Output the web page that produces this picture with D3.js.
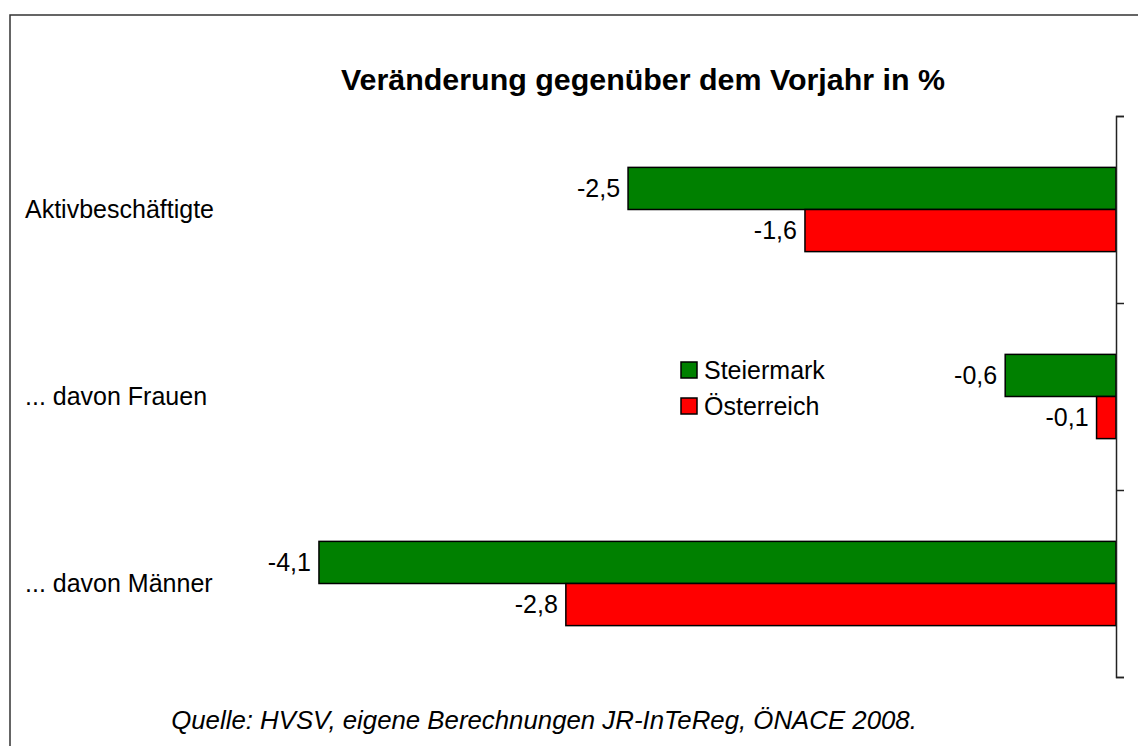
<!DOCTYPE html>
<html>
<head>
<meta charset="utf-8">
<script src="https://cdn.jsdelivr.net/npm/d3@7"></script>
<style>
  body { margin: 0; background: #fff; }
  svg { display: block; font-family: "Liberation Sans", Arial, sans-serif; }
</style>
</head>
<body>
<div class="chart"></div>
<script>
var categories = ["Aktivbeschäftigte", "... davon Frauen", "... davon Männer"];
var series = ["Steiermark", "Österreich"];
var steiermark = [-2.51, -0.57, -4.1];
var oesterreich = [-1.6, -0.1, -2.83];
var colors = ["#008000", "#ff0000"];

var W = 1138, H = 746;
var plot = {top: 116, bottom: 677, right: 1116};

var data = categories.map(function(c, i) {
  return {cat: c, values: [
    {s: series[0], v: steiermark[i]},
    {s: series[1], v: oesterreich[i]}
  ]};
});

var svg = d3.select(".chart").append("svg")
  .attr("width", W)
  .attr("height", H);

// frame (only left and top edges visible)
svg.append("path")
  .attr("d", "M10," + H + "V15H" + W)
  .attr("fill", "none")
  .attr("stroke", "#333")
  .attr("stroke-width", 1.5);

var xScale = d3.scaleLinear().domain([-5, 0]).range([144, plot.right]);
var y0 = d3.scaleBand().domain(categories).range([plot.top, plot.bottom]);
var y1 = d3.scaleBand().domain(series).range([0, y0.bandwidth()]).paddingOuter(1.22);

svg.append("text")
  .attr("x", 643)
  .attr("y", 90)
  .attr("text-anchor", "middle")
  .style("font-size", "30.4px")
  .style("font-weight", "bold")
  .text("Veränderung gegenüber dem Vorjahr in %");

var groups = svg.selectAll(".grp")
  .data(data)
  .enter().append("g")
    .attr("class", "grp")
    .attr("transform", function(d) { return "translate(0," + y0(d.cat) + ")"; });

groups.selectAll("rect")
  .data(function(d) { return d.values; })
  .enter().append("rect")
    .attr("x", function(d) { return xScale(d.v); })
    .attr("y", function(d) { return y1(d.s); })
    .attr("width", function(d) { return xScale(0) - xScale(d.v); })
    .attr("height", y1.bandwidth())
    .attr("fill", function(d, i) { return colors[i]; })
    .attr("stroke", "#000")
    .attr("stroke-width", 1.5);

groups.selectAll(".val")
  .data(function(d) { return d.values; })
  .enter().append("text")
    .attr("class", "val")
    .attr("x", function(d) { return xScale(d.v) - 8; })
    .attr("y", function(d) { return y1(d.s) + y1.bandwidth() / 2; })
    .attr("dy", "0.35em")
    .attr("text-anchor", "end")
    .style("font-size", "25px")
    .text(function(d) { return d3.format(".1f")(d.v).replace(".", ",").replace("−", "-"); });

groups.append("text")
  .attr("x", 25)
  .attr("y", y0.bandwidth() / 2)
  .attr("dy", "0.35em")
  .style("font-size", "25px")
  .text(function(d) { return d.cat; });

// category axis on the right, ticks between the bands
var yTicks = d3.scaleLinear().domain([0, categories.length]).range([plot.top, plot.bottom]);
var axis = svg.append("g")
  .attr("transform", "translate(" + plot.right + ",0)")
  .call(d3.axisRight(yTicks).ticks(categories.length).tickSize(8).tickSizeOuter(8).tickFormat(""));
axis.select(".domain").attr("stroke", "#222").attr("stroke-width", 1.5);
axis.selectAll(".tick line").attr("stroke", "#222").attr("stroke-width", 1.5);

// legend
var legend = svg.selectAll(".leg")
  .data(series)
  .enter().append("g")
    .attr("class", "leg")
    .attr("transform", function(d, i) { return "translate(681," + (362 + i * 36) + ")"; });
legend.append("rect")
  .attr("width", 16).attr("height", 16)
  .attr("fill", function(d, i) { return colors[i]; })
  .attr("stroke", "#000").attr("stroke-width", 1.5);
legend.append("text")
  .attr("x", 23).attr("y", 8).attr("dy", "0.35em")
  .style("font-size", "25px")
  .text(function(d) { return d; });

svg.append("text")
  .attr("x", 544)
  .attr("y", 729)
  .attr("text-anchor", "middle")
  .style("font-size", "25.8px")
  .style("font-style", "italic")
  .text("Quelle: HVSV, eigene Berechnungen JR-InTeReg, ÖNACE 2008.");
</script>
</body>
</html>
